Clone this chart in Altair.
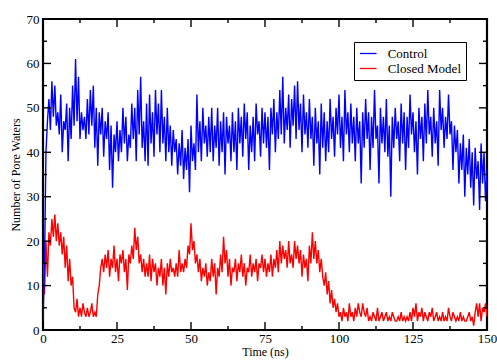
import altair as alt
import pandas as pd

control = [
    2, 14, 40, 47, 52, 45, 56, 48, 55, 46,
    49, 44, 53, 40, 47, 45, 51, 38, 50, 43,
    55, 46, 61, 47, 57, 43, 49, 45, 48, 43,
    52, 44, 54, 46, 55, 41, 50, 37, 49, 44,
    50, 39, 47, 43, 49, 36, 46, 32, 44, 40,
    47, 38, 45, 40, 50, 42, 48, 38, 44, 41,
    51, 43, 50, 38, 54, 44, 57, 41, 47, 38,
    51, 37, 53, 42, 49, 39, 54, 44, 51, 40,
    54, 42, 48, 38, 50, 40, 46, 37, 45, 40,
    43, 35, 42, 37, 45, 34, 41, 36, 43, 31,
    46, 38, 42, 36, 53, 40, 47, 38, 50, 42,
    46, 39, 48, 40, 50, 38, 46, 41, 50, 37,
    47, 40, 49, 35, 48, 42, 46, 38, 49, 40,
    47, 36, 50, 42, 48, 39, 51, 43, 49, 36,
    46, 40, 48, 38, 51, 44, 47, 39, 50, 42,
    49, 41, 48, 36, 50, 44, 52, 40, 49, 43,
    54, 44, 57, 42, 50, 45, 53, 41, 52, 46,
    55, 43, 56, 45, 51, 40, 53, 44, 49, 41,
    52, 43, 48, 37, 50, 42, 47, 35, 51, 41,
    49, 38, 47, 40, 52, 43, 48, 39, 50, 44,
    53, 41, 48, 38, 54, 44, 49, 40, 51, 42,
    48, 38, 50, 42, 47, 33, 49, 41, 52, 43,
    49, 36, 48, 41, 54, 43, 46, 33, 50, 42,
    48, 40, 52, 39, 46, 30, 48, 41, 50, 43,
    47, 38, 51, 42, 49, 36, 48, 41, 53, 44,
    49, 40, 47, 35, 50, 43, 48, 38, 51, 42,
    54, 44, 48, 39, 50, 42, 47, 37, 54, 45,
    50, 41, 48, 43, 53, 44, 47, 36, 46, 40,
    45, 33, 42, 36, 44, 30, 41, 35, 43, 32,
    40, 28, 41, 34, 38, 27, 42, 33, 40, 29,
    36,
]

closed = [
    15, 8, 20, 12, 22, 19, 25, 21, 26, 20,
    24, 19, 22, 17, 21, 14, 19, 11, 16, 10,
    12, 5, 4, 7, 3, 5, 3, 6, 4, 3,
    5, 3, 4, 6, 3, 4, 3, 8, 10, 14,
    16, 13, 17, 14, 18, 12, 16, 14, 19, 13,
    16, 11, 17, 15, 18, 13, 16, 9, 17, 15,
    19, 16, 23, 18, 21, 15, 17, 13, 16, 12,
    15, 12, 17, 11, 16, 13, 15, 10, 14, 12,
    16, 10, 14, 8, 15, 12, 16, 13, 14, 12,
    15, 12, 18, 13, 15, 13, 16, 14, 19, 17,
    24, 18, 20, 15, 17, 13, 16, 11, 14, 12,
    15, 10, 13, 11, 16, 12, 15, 8, 14, 12,
    17, 13, 21, 15, 18, 12, 16, 10, 14, 13,
    16, 11, 15, 13, 17, 12, 15, 10, 14, 13,
    17, 12, 15, 13, 16, 11, 15, 14, 17, 13,
    16, 12, 15, 13, 17, 12, 16, 14, 18, 13,
    20, 15, 19, 16, 18, 14, 20, 15, 17, 14,
    20, 16, 19, 15, 18, 12, 17, 14, 16, 11,
    19, 15, 22, 16, 20, 15, 18, 13, 16, 12,
    10, 13, 8, 11, 6, 9, 5, 7, 4, 6,
    3, 4, 2, 5, 3, 4, 2, 6, 3, 4,
    2, 5, 3, 6, 4, 3, 6, 4, 3, 5,
    2, 3, 2, 4, 3, 2, 5, 2, 3, 4,
    2, 3, 4, 2, 3, 2, 4, 3, 2, 2,
    3, 2, 4, 2, 3, 2, 3, 2, 4, 2,
    5, 3, 6, 2, 4, 3, 5, 2, 4, 3,
    2, 4, 3, 5, 2, 3, 4, 2, 3, 2,
    4, 2, 3, 2, 5, 3, 2, 4, 3, 2,
    3, 2, 4, 2, 3, 2, 2, 3, 4, 2,
    3, 1, 4, 6, 3, 6, 2, 5, 4, 6,
    3,
]

time_ns = [i * 0.5 for i in range(len(control))]

series_names = ["Control", "Closed Model"]
series_colors = ["#0000ff", "#ff0000"]

x_major = [0, 25, 50, 75, 100, 125, 150]
x_minor = [12.5, 37.5, 62.5, 87.5, 112.5, 137.5]
y_major = [0, 10, 20, 30, 40, 50, 60, 70]
y_minor = [5, 15, 25, 35, 45, 55, 65]

W, H = 444, 311
FONT = "Liberation Serif"

df_c = pd.DataFrame({"t": time_ns, "v": control, "s": "Control"})
df_r = pd.DataFrame({"t": time_ns, "v": closed, "s": "Closed Model"})

xs = alt.Scale(domain=[0, 150], nice=False, zero=False)
ys = alt.Scale(domain=[0, 70], nice=False, zero=False)
cs = alt.Scale(domain=series_names, range=series_colors)

legend = alt.Legend(
    title=None, orient="none", legendX=311, legendY=23,
    strokeColor="black", fillColor="white", padding=4,
    symbolType="M-0.85,0H1.7", symbolSize=169, symbolStrokeWidth=1.3,
    labelFont=FONT, labelFontSize=13, labelColor="black",
    rowPadding=0, labelOffset=14.7, cornerRadius=0,
)

xaxis = alt.Axis(values=x_major, title="Time (ns)", titleFont=FONT, titleFontSize=12,
                 titleFontWeight="normal", titleColor="black", titlePadding=1,
                 labelFont=FONT, labelFontSize=13, labelColor="black", labelPadding=2,
                 ticks=False, domain=False, grid=False, labelFlush=False)
yaxis = alt.Axis(values=y_major, title="Number of Pore Waters", titleFont=FONT, titleFontSize=12,
                 titleFontWeight="normal", titleColor="black", titlePadding=4,
                 labelFont=FONT, labelFontSize=13, labelColor="black", labelPadding=4,
                 ticks=False, domain=False, grid=False, labelFlush=False)

red = alt.Chart(df_r).mark_line(strokeWidth=1.4, clip=True).encode(
    x=alt.X("t:Q", scale=xs, axis=xaxis),
    y=alt.Y("v:Q", scale=ys, axis=yaxis),
    color=alt.Color("s:N", scale=cs, legend=legend),
)
blue = alt.Chart(df_c).mark_line(strokeWidth=1.4, clip=True).encode(
    x=alt.X("t:Q", scale=xs, axis=xaxis),
    y=alt.Y("v:Q", scale=ys, axis=yaxis),
    color=alt.Color("s:N", scale=cs, legend=legend),
)

def xticks(vals, length):
    d = pd.DataFrame({"t": vals})
    bot = alt.Chart(d).mark_rule(color="black", strokeWidth=1.4).encode(
        x=alt.X("t:Q", scale=xs, axis=xaxis), y=alt.value(H), y2=alt.value(H - length))
    top = alt.Chart(d).mark_rule(color="black", strokeWidth=1.4).encode(
        x=alt.X("t:Q", scale=xs, axis=xaxis), y=alt.value(0), y2=alt.value(length))
    return [bot, top]

def yticks(vals, length):
    d = pd.DataFrame({"v": vals})
    left = alt.Chart(d).mark_rule(color="black", strokeWidth=1.4).encode(
        y=alt.Y("v:Q", scale=ys, axis=yaxis), x=alt.value(0), x2=alt.value(length))
    right = alt.Chart(d).mark_rule(color="black", strokeWidth=1.4).encode(
        y=alt.Y("v:Q", scale=ys, axis=yaxis), x=alt.value(W), x2=alt.value(W - length))
    return [left, right]

layers = [red, blue] + xticks(x_major, 8) + xticks(x_minor, 4) + yticks(y_major, 8) + yticks(y_minor, 4)

chart = alt.layer(*layers).properties(
    width=W, height=H,
    autosize=alt.AutoSizeParams(type="none"),
    padding={"left": 43, "top": 19, "right": 10, "bottom": 30},
    background="white",
).configure_view(stroke="black", strokeWidth=2.2)

chart.save("out.html", embed_options={"renderer": "svg", "actions": False})
